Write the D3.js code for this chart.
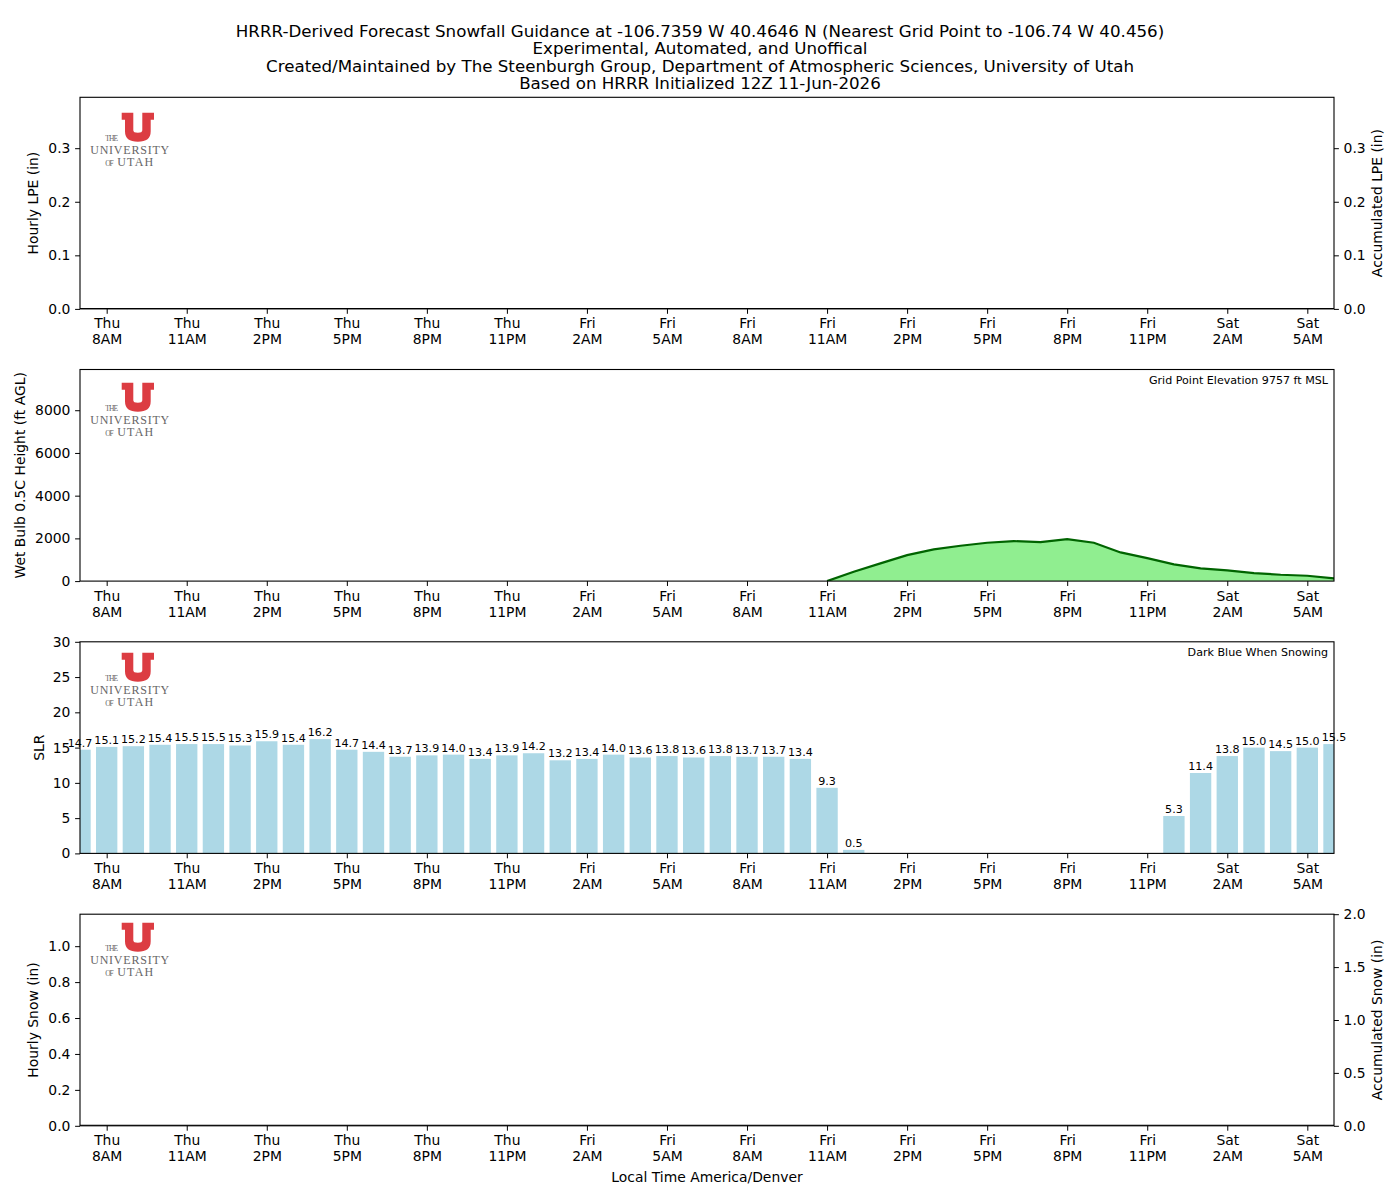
<!DOCTYPE html>
<html>
<head>
<meta charset="utf-8">
<script src="https://cdn.jsdelivr.net/npm/d3@7"></script>
<style>
  body { margin: 0; background: #fff; }
  text { font-family: "DejaVu Sans", sans-serif; }
</style>
</head>
<body>
<div id="chart"></div>
<script>
// hour index 0 = Thu 7AM local, 47 = Sat 6AM
var tickHours = [1, 4, 7, 10, 13, 16, 19, 22, 25, 28, 31, 34, 37, 40, 43, 46];
var tickLabels = [
  ["Thu", "8AM"], ["Thu", "11AM"], ["Thu", "2PM"], ["Thu", "5PM"], ["Thu", "8PM"], ["Thu", "11PM"],
  ["Fri", "2AM"], ["Fri", "5AM"], ["Fri", "8AM"], ["Fri", "11AM"], ["Fri", "2PM"], ["Fri", "5PM"],
  ["Fri", "8PM"], ["Fri", "11PM"], ["Sat", "2AM"], ["Sat", "5AM"]
];

var hourlyLPE = [0,0,0,0,0,0,0,0,0,0,0,0,0,0,0,0,0,0,0,0,0,0,0,0,0,0,0,0,0,0,0,0,0,0,0,0,0,0,0,0,0,0,0,0,0,0,0,0];
var accumLPE  = [0,0,0,0,0,0,0,0,0,0,0,0,0,0,0,0,0,0,0,0,0,0,0,0,0,0,0,0,0,0,0,0,0,0,0,0,0,0,0,0,0,0,0,0,0,0,0,0];

var wetBulb = [null,null,null,null,null,null,null,null,null,null,null,null,null,null,
  null,null,null,null,null,null,null,null,null,null,null,null,null,null,
  0, 437, 828, 1218, 1484, 1655, 1796, 1874, 1827, 1968, 1796, 1343, 1078, 781,
  593, 500, 375, 297, 250, 125];

var slr = [14.7, 15.1, 15.2, 15.4, 15.5, 15.5, 15.3, 15.9, 15.4, 16.2,
  14.7, 14.4, 13.7, 13.9, 14.0, 13.4, 13.9, 14.2, 13.2, 13.4,
  14.0, 13.6, 13.8, 13.6, 13.8, 13.7, 13.7, 13.4, 9.3, 0.5,
  0, 0, 0, 0, 0, 0, 0, 0, 0, 0, 0,
  5.3, 11.4, 13.8, 15.0, 14.5, 15.0, 15.5];

var hourlySnow = [0,0,0,0,0,0,0,0,0,0,0,0,0,0,0,0,0,0,0,0,0,0,0,0,0,0,0,0,0,0,0,0,0,0,0,0,0,0,0,0,0,0,0,0,0,0,0,0];
var accumSnow  = [0,0,0,0,0,0,0,0,0,0,0,0,0,0,0,0,0,0,0,0,0,0,0,0,0,0,0,0,0,0,0,0,0,0,0,0,0,0,0,0,0,0,0,0,0,0,0,0];

var titleLines = [
  "HRRR-Derived Forecast Snowfall Guidance at -106.7359 W 40.4646 N (Nearest Grid Point to -106.74 W 40.456)",
  "Experimental, Automated, and Unoffical",
  "Created/Maintained by The Steenburgh Group, Department of Atmospheric Sciences, University of Utah",
  "Based on HRRR Initialized 12Z 11-Jun-2026"
];

var svgwidth = 1400, svgheight = 1200;
var left = 80, right = 1334;
var panelTops = [97.3, 369.5, 641.8, 914.2];
var panelH = 211.6;
var tickFont = "13.9px";
var smallFont = "11.1px";

var svg = d3.select("#chart").append("svg")
  .attr("width", svgwidth)
  .attr("height", svgheight);

svg.selectAll(".title")
  .data(titleLines)
  .enter().append("text")
  .attr("x", 700)
  .attr("y", (d, i) => 37 + i * 17.4)
  .attr("text-anchor", "middle")
  .style("font-size", "16.7px")
  .text(d => d);

var xscale = d3.scaleLinear().domain([0, 47]).range([left, right]);
var bw = 0.8 * (xscale(1) - xscale(0));

function styleAxis(g) {
  g.select(".domain").remove();
  g.selectAll(".tick line").attr("stroke", "#000").attr("stroke-width", 1);
  g.selectAll(".tick text").attr("fill", "#000").style("font-size", tickFont);
}

function drawLogo(g, x, y) {
  var lg = g.append("g").attr("transform", `translate(${x}, ${y})`);
  var serif = "'Liberation Serif', 'DejaVu Serif', serif";
  lg.append("path")
    .attr("d", "M0,0 H11.6 V17.5 Q11.6,20 16.15,20 Q20.6,20 20.6,17.5 V0 H32.3 V7 H29 V18.5 Q29,29 16.15,29 Q3.3,29 3.3,18.5 V7 H0 Z")
    .attr("fill", "#dc3c42");
  lg.append("text").attr("x", -16.5).attr("y", 28.5).text("THE")
    .style("font-family", serif).style("font-size", "7.5px")
    .attr("fill", "#666").attr("textLength", 13);
  lg.append("text").attr("x", -31.5).attr("y", 41).text("UNIVERSITY")
    .style("font-family", serif).style("font-size", "12px")
    .attr("fill", "#666").attr("textLength", 79);
  lg.append("text").attr("x", -16.5).attr("y", 53).text("OF")
    .style("font-family", serif).style("font-size", "7.5px")
    .attr("fill", "#666").attr("textLength", 8.5);
  lg.append("text").attr("x", -4.5).attr("y", 53).text("UTAH")
    .style("font-family", serif).style("font-size", "12px")
    .attr("fill", "#666").attr("textLength", 36);
}

function makePanel(i, domain, ticks, fmt, label, labelX) {
  var top = panelTops[i];
  var yscale = d3.scaleLinear().domain(domain).range([top + panelH, top]);
  var g = svg.append("g");

  g.append("clipPath").attr("id", "clip" + i)
    .append("rect").attr("x", left).attr("y", top).attr("width", right - left).attr("height", panelH);

  var xaxis = d3.axisBottom(xscale).tickValues(tickHours).tickSize(4.9).tickPadding(4.7).tickFormat("");
  var xg = g.append("g")
    .attr("transform", `translate(0, ${top + panelH})`)
    .call(xaxis);
  styleAxis(xg);
  xg.selectAll(".tick text").each(function(d, k) {
    var t = d3.select(this);
    t.text(null);
    t.append("tspan").attr("x", 0).attr("dy", "0.71em").text(tickLabels[k][0]);
    t.append("tspan").attr("x", 0).attr("dy", "1.16em").text(tickLabels[k][1]);
  });

  var yaxis = d3.axisLeft(yscale).tickValues(ticks).tickFormat(d3.format(fmt)).tickSize(4.9).tickPadding(4.7);
  var yg = g.append("g").attr("transform", `translate(${left}, 0)`).call(yaxis);
  styleAxis(yg);

  g.append("text")
    .attr("transform", `translate(${labelX}, ${top + panelH / 2}) rotate(-90)`)
    .attr("text-anchor", "middle")
    .style("font-size", tickFont)
    .text(label);

  drawLogo(g, 121.7, 112.7 + 270 * i);

  return { g: g, yscale: yscale, top: top };
}

function frame(p) {
  p.g.append("rect")
    .attr("x", left).attr("y", p.top)
    .attr("width", right - left).attr("height", panelH)
    .attr("fill", "none").attr("stroke", "#000").attr("stroke-width", 1.1);
}

function rightAxis(p, domain, ticks, fmt, label) {
  var ys = d3.scaleLinear().domain(domain).range([p.top + panelH, p.top]);
  var ax = d3.axisRight(ys).tickValues(ticks).tickFormat(d3.format(fmt)).tickSize(4.9).tickPadding(4.7);
  var rg = p.g.append("g").attr("transform", `translate(${right}, 0)`).call(ax);
  styleAxis(rg);
  p.g.append("text")
    .attr("transform", `translate(1382, ${p.top + panelH / 2}) rotate(-90)`)
    .attr("text-anchor", "middle")
    .style("font-size", tickFont)
    .text(label);
  return ys;
}

// Panel 1: LPE
var p1 = makePanel(0, [0, 0.395], [0, 0.1, 0.2, 0.3], ".1f", "Hourly LPE (in)", 38);
p1.g.append("g").attr("clip-path", "url(#clip0)")
  .selectAll("rect").data(hourlyLPE).enter().append("rect")
  .attr("x", (d, k) => xscale(k) - bw / 2)
  .attr("width", bw)
  .attr("y", d => p1.yscale(d))
  .attr("height", d => p1.yscale(0) - p1.yscale(d))
  .attr("fill", "#1f77b4");
var r1 = rightAxis(p1, [0, 0.395], [0, 0.1, 0.2, 0.3], ".1f", "Accumulated LPE (in)");
p1.g.append("path").datum(accumLPE)
  .attr("clip-path", "url(#clip0)")
  .attr("d", d3.line().x((d, k) => xscale(k)).y(d => r1(d)))
  .attr("fill", "none").attr("stroke", "#000").attr("stroke-width", 2);
frame(p1);

// Panel 2: wet bulb height
var p2 = makePanel(1, [0, 9907], [0, 2000, 4000, 6000, 8000], "d", "Wet Bulb 0.5C Height (ft AGL)", 25);
var defined = d => d !== null;
p2.g.append("path").datum(wetBulb)
  .attr("clip-path", "url(#clip1)")
  .attr("d", d3.area().defined(defined).x((d, k) => xscale(k)).y0(p2.yscale(0)).y1(d => p2.yscale(d)))
  .attr("fill", "#90ee90");
p2.g.append("path").datum(wetBulb)
  .attr("clip-path", "url(#clip1)")
  .attr("d", d3.line().defined(defined).x((d, k) => xscale(k)).y(d => p2.yscale(d)))
  .attr("fill", "none").attr("stroke", "#006400").attr("stroke-width", 2.2);
p2.g.append("text")
  .attr("x", 1328).attr("y", p2.top + 14.5)
  .attr("text-anchor", "end")
  .style("font-size", smallFont)
  .text("Grid Point Elevation 9757 ft MSL");
frame(p2);

// Panel 3: SLR
var p3 = makePanel(2, [0, 30], [0, 5, 10, 15, 20, 25, 30], "d", "SLR", 44);
p3.g.append("g").attr("clip-path", "url(#clip2)")
  .selectAll("rect").data(slr).enter().append("rect")
  .attr("x", (d, k) => xscale(k) - bw / 2)
  .attr("width", bw)
  .attr("y", d => p3.yscale(d))
  .attr("height", d => p3.yscale(0) - p3.yscale(d))
  .attr("fill", "#add8e6");
slr.forEach(function(d, k) {
  if (d > 0) {
    p3.g.append("text")
      .attr("x", xscale(k))
      .attr("y", p3.yscale(d) - 3)
      .attr("text-anchor", "middle")
      .style("font-size", smallFont)
      .text(d3.format(".1f")(d));
  }
});
p3.g.append("text")
  .attr("x", 1328).attr("y", p3.top + 14.5)
  .attr("text-anchor", "end")
  .style("font-size", smallFont)
  .text("Dark Blue When Snowing");
frame(p3);

// Panel 4: snow
var p4 = makePanel(3, [0, 1.178], [0, 0.2, 0.4, 0.6, 0.8, 1.0], ".1f", "Hourly Snow (in)", 38);
p4.g.append("g").attr("clip-path", "url(#clip3)")
  .selectAll("rect").data(hourlySnow).enter().append("rect")
  .attr("x", (d, k) => xscale(k) - bw / 2)
  .attr("width", bw)
  .attr("y", d => p4.yscale(d))
  .attr("height", d => p4.yscale(0) - p4.yscale(d))
  .attr("fill", "#00008b");
var r4 = rightAxis(p4, [0, 2.0], [0, 0.5, 1.0, 1.5, 2.0], ".1f", "Accumulated Snow (in)");
p4.g.append("path").datum(accumSnow)
  .attr("clip-path", "url(#clip3)")
  .attr("d", d3.line().x((d, k) => xscale(k)).y(d => r4(d)))
  .attr("fill", "none").attr("stroke", "#000").attr("stroke-width", 2);
frame(p4);

svg.append("text")
  .attr("x", 707).attr("y", 1182)
  .attr("text-anchor", "middle")
  .style("font-size", tickFont)
  .text("Local Time America/Denver");
</script>
</body>
</html>
